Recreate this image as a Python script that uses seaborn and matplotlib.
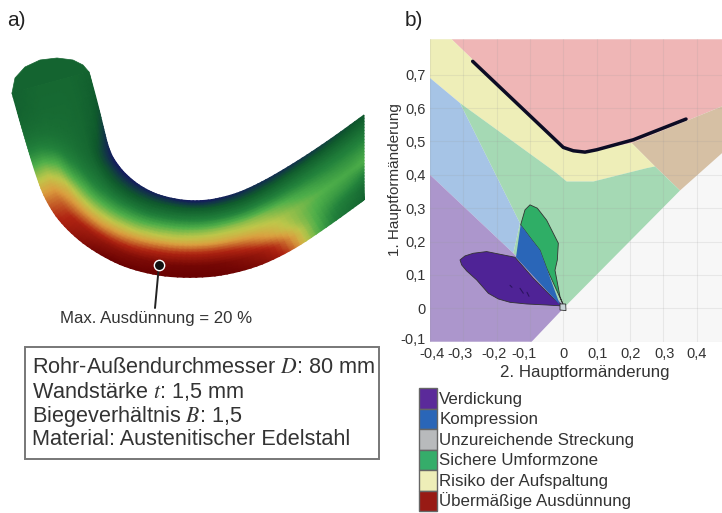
# forming limit diagram next to the bent tube
import numpy as np
import pandas as pd
import matplotlib
matplotlib.use("Agg")
import matplotlib.pyplot as plt
from matplotlib.colors import LinearSegmentedColormap
from matplotlib.patches import Patch, Rectangle
from matplotlib.transforms import ScaledTranslation
import seaborn as sns

# === Diagram zones (2. / 1. Hauptformaenderung) ===
red_x = [-0.335, 0.476, 0.476, 0.205, 0.09, 0.055, 0.0]
red_y = [0.806, 0.806, 0.605, 0.495, 0.473, 0.468, 0.482]
tan_x = [0.476, 0.205, 0.275, 0.35, 0.476]
tan_y = [0.605, 0.495, 0.425, 0.353, 0.465]
yellow_x = [-0.4, -0.335, 0.0, 0.055, 0.09, 0.205, 0.275, 0.25, 0.09, 0.01, -0.02, -0.31, -0.4]
yellow_y = [0.806, 0.806, 0.482, 0.468, 0.473, 0.495, 0.425, 0.42, 0.38, 0.38, 0.405, 0.615, 0.69]
blue_x = [-0.4, -0.31, -0.13, -0.15, -0.4]
blue_y = [0.69, 0.615, 0.255, 0.165, 0.4]
green_x = [-0.31, -0.02, 0.01, 0.09, 0.25, 0.275, 0.35, 0.005, -0.15, -0.13]
green_y = [0.615, 0.405, 0.38, 0.38, 0.42, 0.425, 0.353, 0.005, 0.165, 0.255]
purple_x = [-0.4, -0.15, 0.005, -0.095, -0.4]
purple_y = [0.4, 0.165, 0.005, -0.1, -0.1]

# === Strain clouds ===
leaf_purple_x = [-0.31, -0.295, -0.27, -0.23, -0.18, -0.145, -0.09, -0.03, 0.0, -0.05, -0.11, -0.16, -0.195, -0.225, -0.26, -0.29, -0.305]
leaf_purple_y = [0.145, 0.157, 0.165, 0.17, 0.16, 0.153, 0.09, 0.03, 0.007, 0.01, 0.013, 0.018, 0.028, 0.045, 0.085, 0.112, 0.13]
leaf_blue_x = [-0.128, -0.142, -0.01, -0.05, -0.07, -0.098]
leaf_blue_y = [0.25, 0.153, 0.01, 0.12, 0.174, 0.21]
leaf_green_x = [-0.128, -0.115, -0.1, -0.078, -0.05, -0.015, -0.018, -0.025, -0.01, 0.0, -0.05, -0.07, -0.098]
leaf_green_y = [0.25, 0.295, 0.31, 0.3, 0.264, 0.195, 0.145, 0.114, 0.035, 0.01, 0.12, 0.174, 0.21]
leaf_grey_x = [-0.01, 0.007, 0.008, -0.01]
leaf_grey_y = [0.013, 0.013, -0.007, -0.005]
dash_x = [[-0.16, -0.154], [-0.13, -0.12], [-0.109, -0.103]]
dash_y = [[0.069, 0.063], [0.06, 0.045], [0.048, 0.036]]

# === Grenzkurve ===
curve_x = [-0.272, 0.0, 0.03, 0.065, 0.1, 0.21, 0.368]
curve_y = [0.74, 0.482, 0.472, 0.468, 0.475, 0.505, 0.567]

x_ticks = [-0.4, -0.3, -0.2, -0.1, 0, 0.1, 0.2, 0.3, 0.4]
x_ticklabels = ["-0,4", "-0,3", "-0,2", "-0,1", "0", "0,1", "0,2", "0,3", "0,4"]
y_ticks = [-0.1, 0, 0.1, 0.2, 0.3, 0.4, 0.5, 0.6, 0.7]
y_ticklabels = ["-0,1", "0", "0,1", "0,2", "0,3", "0,4", "0,5", "0,6", "0,7"]

legend_labels = ["Verdickung", "Kompression", "Unzureichende Streckung",
                 "Sichere Umformzone", "Risiko der Aufspaltung", "Übermäßige Ausdünnung"]
legend_colors = ["#5b2a9a", "#2a66b8", "#b8babc", "#35ad6a", "#eeeeb8", "#981a14"]

info_lines = ["Rohr-Außendurchmesser $\\mathit{D}$: 80 mm", "Wandstärke $\\mathit{t}$: 1,5 mm",
              "Biegeverhältnis $\\mathit{B}$: 1,5", "Material: Austenitischer Edelstahl"]

# === Tube (picture pixels) and thinning values across it ===
inner_x = [89, 98, 104, 109, 116, 128, 146, 167, 197, 227, 253, 287, 327, 364]
inner_y = [72, 105, 130, 150, 163, 177, 190, 198, 202, 197, 187, 168, 142, 115]
outer_x = [12, 21, 29, 36, 46, 66, 100, 140, 190, 240, 285, 327, 364, 364]
outer_y = [93, 125, 152, 175, 202, 230, 256, 273, 279, 273, 255, 227, 200, 200]
cap_x = [12, 15, 25, 40, 57, 73, 83, 89]
cap_y = [93, 78, 67, 60, 58, 60, 65, 72]
across = [0, 0.1, 0.25, 0.4, 0.55, 0.7, 0.85, 1]
thinning = [
    [.18, .19, .20, .20, .20, .20, .19, .18],
    [.15, .18, .20, .21, .21, .21, .20, .19],
    [.08, .16, .20, .22, .24, .26, .28, .28],
    [.02, .10, .20, .25, .32, .46, .52, .50],
    [.00, .10, .22, .30, .45, .62, .70, .72],
    [.00, .10, .22, .35, .50, .66, .82, .85],
    [.02, .12, .25, .40, .55, .70, .90, 1.0],
    [.02, .15, .28, .45, .60, .78, .95, 1.0],
    [.00, .15, .30, .48, .62, .82, .98, 1.0],
    [.02, .15, .30, .50, .62, .80, .95, 1.0],
    [.05, .15, .30, .48, .56, .62, .78, .86],
    [.05, .17, .28, .38, .44, .40, .34, .28],
    [.10, .18, .28, .34, .40, .34, .24, .20],
    [.15, .20, .28, .36, .42, .30, .22, .18],
]


def soften(values, fine=8):
    # upsample along the tube and round off the corners of the read-off stations
    values = np.asarray(values, dtype=float)
    pos = np.arange(len(values))
    new_pos = np.linspace(0, len(values) - 1, (len(values) - 1) * fine + 1)
    if values.ndim == 1:
        values = values[:, None]
    dense = np.column_stack([np.interp(new_pos, pos, values[:, i]) for i in range(values.shape[1])])
    # point-mirrored ends keep the first and last station where they are
    head = 2 * dense[0] - dense[fine:0:-1]
    tail = 2 * dense[-1] - dense[-2:-fine - 2:-1]
    padded = np.vstack([head, dense, tail])
    kernel = np.ones(fine + 1) / (fine + 1)
    return np.column_stack([np.convolve(padded[:, i], kernel, mode="same")[fine:-fine] for i in range(dense.shape[1])])


sns.set_theme(style="whitegrid")
plt.rcParams["font.family"] = ["Liberation Sans", "DejaVu Sans"]
plt.rcParams["mathtext.fontset"] = "stix"
text_color = "#333333"

fig = plt.figure(figsize=(7.22, 5.13), dpi=100)

# -----------------------
# a) tube, drawn in pixel coordinates
# -----------------------
ax_pic = fig.add_axes([0, 0, 1, 1])
ax_pic.set_xlim(0, 722)
ax_pic.set_ylim(513, 0)
ax_pic.axis("off")

tube_cmap = LinearSegmentedColormap.from_list("tube", [
    (0.0, "#141a60"), (0.15, "#0f5a2c"), (0.3, "#23833c"), (0.42, "#4fb04a"),
    (0.55, "#c0c84a"), (0.65, "#dca040"), (0.8, "#b02412"), (1.0, "#6a0202")])

# fine mesh across the tube, so the colours run smoothly
f_fine = np.linspace(0, 1, 29)
values = np.clip(soften(thinning), 0, 1)
values = np.column_stack([np.interp(f_fine, across, row) for row in values]).T
edge_in_x, edge_in_y = soften(inner_x), soften(inner_y)
edge_out_x, edge_out_y = soften(outer_x), soften(outer_y)
mesh_x = edge_in_x @ (1 - f_fine)[None, :] + edge_out_x @ f_fine[None, :]
mesh_y = edge_in_y @ (1 - f_fine)[None, :] + edge_out_y @ f_fine[None, :]
ax_pic.fill(cap_x, cap_y, color=tube_cmap(0.19), lw=0.5)
ax_pic.pcolormesh(mesh_x, mesh_y, values, cmap=tube_cmap, vmin=0, vmax=1, shading="gouraud")

ax_pic.plot([159, 155], [265, 308], color="#222222", lw=1.4)
ax_pic.scatter([159], [265], s=55, color="#111111", edgecolor="white", linewidth=1, zorder=5)
ax_pic.text(156.5, 319, "Max. Ausdünnung = 20 %", ha="center", va="center", fontsize=12.1, color=text_color)

ax_pic.text(7, 21, "a)", ha="left", va="center", fontsize=15, color="#222222")
ax_pic.text(405, 21, "b)", ha="left", va="center", fontsize=15, color="#222222")

ax_pic.add_patch(Rectangle((25, 347), 354, 112, fc="white", ec="#777777", lw=1.4))
for line, y in zip(info_lines, [373, 398, 422, 445]):
    ax_pic.text(32, y, line, ha="left", va="baseline", fontsize=15.6, color=text_color)

# -----------------------
# b) forming limit diagram
# -----------------------
ax = fig.add_axes([430 / 722, (513 - 341.7) / 513, (722 - 430) / 722, (341.7 - 39.3) / 513])
ax.set_facecolor("#f7f7f7")
ax.fill(red_x, red_y, color="#efb6b6", lw=0)
ax.fill(tan_x, tan_y, color="#d6c0a4", lw=0)
ax.fill(yellow_x, yellow_y, color="#eeeeb8", lw=0)
ax.fill(blue_x, blue_y, color="#a6c4e6", lw=0)
ax.fill(green_x, green_y, color="#a5d9b4", lw=0)
ax.fill(purple_x, purple_y, color="#ac96cc", lw=0)

ax.fill(leaf_purple_x, leaf_purple_y, color="#4f2396", ec="#333333", lw=0.6, zorder=3)
ax.fill(leaf_green_x, leaf_green_y, color="#2fae66", ec="#333333", lw=0.6, zorder=3)
ax.fill(leaf_blue_x, leaf_blue_y, color="#2a66b8", lw=0, zorder=3)
ax.fill(leaf_grey_x, leaf_grey_y, color="#c8d4d8", ec="#333333", lw=0.6, zorder=3)
for dx, dy in zip(dash_x, dash_y):
    ax.plot(dx, dy, color="#2c1460", lw=0.8, zorder=3)

curve = pd.DataFrame({"e2": curve_x, "e1": curve_y})
sns.lineplot(data=curve, x="e2", y="e1", color="#0c0c24", lw=2.5, sort=False, errorbar=None, ax=ax, zorder=4)

ax.set_xlim(-0.4, 0.476)
ax.set_ylim(-0.1, 0.806)
ax.set_xticks(x_ticks, x_ticklabels)
ax.set_yticks(y_ticks, y_ticklabels)
ax.set_axisbelow(False)
ax.grid(True, color="#999999", alpha=0.16, lw=0.8)
ax.tick_params(length=0, labelsize=10.5, labelcolor=text_color, pad=3)
ax.tick_params(axis="x", pad=4)
for side in ax.spines.values():
    side.set_visible(False)
ax.set_xlabel("2. Hauptformänderung", fontsize=12.2, color=text_color)
ax.xaxis.set_label_coords(0.531, -0.077)
ax.set_ylabel("1. Hauptformänderung", fontsize=11, color=text_color)
ax.yaxis.set_label_coords(-0.097, 0.535)

# the original tick labels sit a little off their grid lines
for label, shift in zip(ax.get_xticklabels(), [1.5, -3, -3, -6, 0, 1, 1, 1, 0]):
    label.set_transform(label.get_transform() + ScaledTranslation(shift / 100, 0, fig.dpi_scale_trans))
bottom_label = ax.get_yticklabels()[0]
bottom_label.set_transform(bottom_label.get_transform() + ScaledTranslation(0, 3.5 / 100, fig.dpi_scale_trans))

handles = [Patch(fc=c, ec="#666666", lw=1) for c in legend_colors]
fig.legend(handles, legend_labels, loc="upper left", bbox_to_anchor=(419 / 722, 1 - 388 / 513), borderaxespad=0,
           borderpad=0, frameon=False, labelspacing=0, handlelength=1.07, handleheight=1.485, handletextpad=0.12,
           fontsize=12.2, labelcolor=text_color)

fig.savefig("out.png", dpi=100)
